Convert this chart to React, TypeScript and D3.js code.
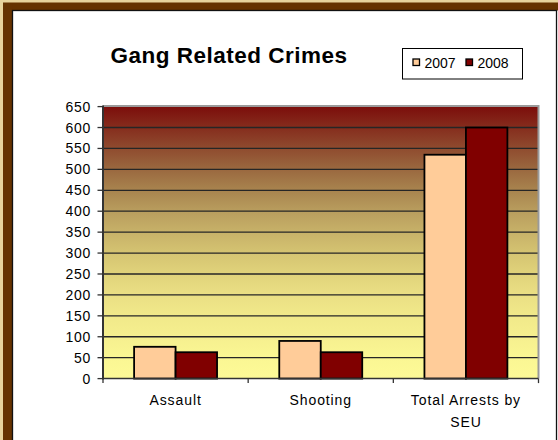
import React from "react";
import * as d3 from "d3";

const categories = ["Assault", "Shooting", "Total Arrests by SEU"];
const categoryLines = [["Assault"], ["Shooting"], ["Total Arrests by", "SEU"]];
const seriesNames = ["2007", "2008"];
const values2007 = [76, 90, 535];
const values2008 = [63, 63, 600];
const yTicks = [0, 50, 100, 150, 200, 250, 300, 350, 400, 450, 500, 550, 600, 650];
const seriesColors = ["#ffcc99", "#800000"];

const W = 558;
const H = 440;
const plot = { left: 103, right: 538.5, top: 106.6, bottom: 378.6 };

export default function App() {
  const y = d3.scaleLinear().domain([0, 650]).range([plot.bottom, plot.top]);
  const x = d3.scaleBand<string>().domain(categories).range([plot.left, plot.right]).padding(0);
  const bw = x.bandwidth();
  const barW = bw / 3.5;
  const off = (bw - 2 * barW) / 2;
  const series = [values2007, values2008];

  const gradStops = [
    [0, "#7c0e0b"],
    [0.08, "#862e1e"],
    [0.15, "#8f4a2e"],
    [0.23, "#9a683f"],
    [0.31, "#a9854f"],
    [0.38, "#b89c5d"],
    [0.46, "#c7b168"],
    [0.54, "#d5c472"],
    [0.62, "#e1d47b"],
    [0.69, "#eadf84"],
    [0.77, "#f1e98a"],
    [0.85, "#f6f08f"],
    [0.92, "#faf693"],
    [1, "#fdfa97"],
  ];

  const font = "Arial, 'Liberation Sans', sans-serif";

  return (
    <svg
      width={W}
      height={H}
      style={{ position: "absolute", left: 0, top: 0, display: "block" }}
      fontFamily={font}
    >
      <defs>
        <linearGradient id="bg" x1="0" y1="0" x2="0" y2="1">
          {gradStops.map(([o, c], i) => (
            <stop key={i} offset={o as number} stopColor={c as string} />
          ))}
        </linearGradient>
      </defs>
      {/* frame */}
      <rect x={0} y={0} width={W} height={H} fill="#ffffff" />
      <rect x={0} y={0} width={W} height={10.5} fill="#663300" />
      <rect x={0} y={0} width={12.5} height={H} fill="#663300" />
      <rect x={0} y={0} width={W} height={2.5} fill="#e8d49c" />
      <rect x={0} y={0} width={3} height={H} fill="#e8d49c" />
      <rect x={12.5} y={10.5} width={544} height={H} fill="#ffffff" stroke="#111" strokeWidth={1.3} />

      {/* title */}
      <text x={229} y={63} textAnchor="middle" fontSize={22.5} fontWeight="bold" letterSpacing={0.5} fill="#000">
        Gang Related Crimes
      </text>

      {/* legend */}
      <rect x={402.5} y={48.5} width={120} height={30.5} fill="#fff" stroke="#000" strokeWidth={1} />
      {seriesNames.map((s, i) => {
        const sx = [413, 466][i];
        return (
          <g key={s}>
            <rect x={sx} y={59} width={6.5} height={6.5} fill={seriesColors[i]} stroke="#000" strokeWidth={1.3} />
            <text x={sx + 11.5} y={67.5} fontSize={14} fill="#000">
              {s}
            </text>
          </g>
        );
      })}

      {/* plot background */}
      <rect
        x={plot.left}
        y={plot.top}
        width={plot.right - plot.left}
        height={plot.bottom - plot.top}
        fill="url(#bg)"
      />
      {/* gridlines */}
      {yTicks
        .filter((t) => t > 0 && t < 650)
        .map((t) => (
          <line key={t} x1={plot.left} x2={plot.right} y1={y(t)} y2={y(t)} stroke="#262626" strokeWidth={1.3} />
        ))}
      {/* plot border top/right */}
      <path
        d={`M${plot.left},${plot.top - 0.5}H${plot.right}V${plot.bottom}`}
        fill="none"
        stroke="#9a9a9a"
        strokeWidth={2}
      />

      {/* bars */}
      {categories.map((c, ci) =>
        series.map((vals, si) => {
          const bx = (x(c) as number) + off + si * barW;
          return (
            <rect
              key={c + si}
              x={bx}
              y={y(vals[ci])}
              width={barW}
              height={y(0) - y(vals[ci])}
              fill={seriesColors[si]}
              stroke="#000"
              strokeWidth={1.8}
            />
          );
        })
      )}

      {/* y axis */}
      <line x1={plot.left} x2={plot.left} y1={plot.top - 1} y2={plot.bottom + 1} stroke="#333" strokeWidth={2} />
      {yTicks.map((t) => (
        <g key={t}>
          <line x1={plot.left - 5.5} x2={plot.left} y1={y(t)} y2={y(t)} stroke="#333" strokeWidth={1.3} />
          <text x={91} y={y(t) + 5} textAnchor="end" fontSize={14} letterSpacing={0.7} fill="#000">
            {t}
          </text>
        </g>
      ))}

      {/* x axis */}
      <line x1={plot.left} x2={plot.right} y1={plot.bottom} y2={plot.bottom} stroke="#333" strokeWidth={1.5} />
      {[...categories.map((c) => x(c) as number), plot.right].map((tx, i) => (
        <line key={i} x1={tx} x2={tx} y1={plot.bottom} y2={plot.bottom + 4.5} stroke="#333" strokeWidth={1.3} />
      ))}
      {categories.map((c, ci) => (
        <text key={c} textAnchor="middle" fontSize={14} letterSpacing={0.9} fill="#000">
          {categoryLines[ci].map((ln, li) => (
            <tspan key={li} x={(x(c) as number) + bw / 2} y={404.5 + li * 22}>
              {ln}
            </tspan>
          ))}
        </text>
      ))}
    </svg>
  );
}
